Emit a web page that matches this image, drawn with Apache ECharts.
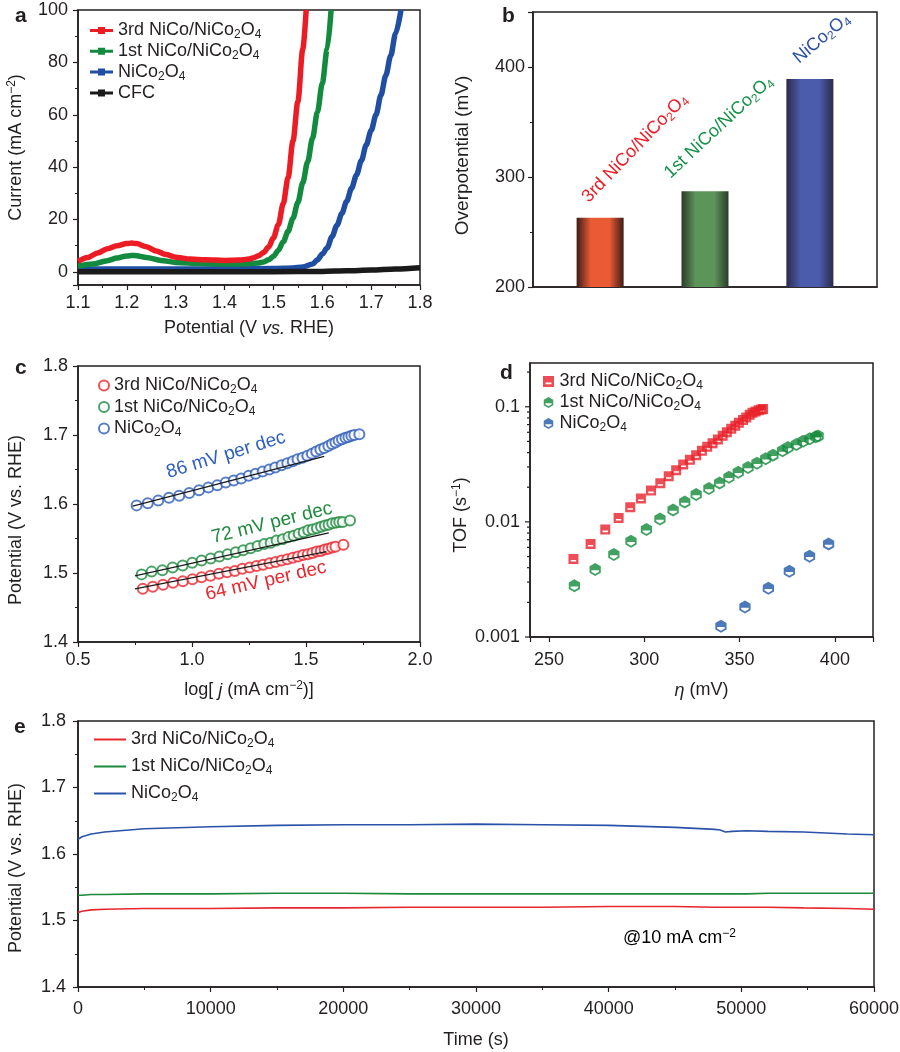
<!DOCTYPE html>
<html>
<head>
<meta charset="utf-8">
<script src="https://cdn.jsdelivr.net/npm/echarts@6/dist/echarts.min.js"></script>
<style>
  html, body { margin: 0; padding: 0; background: #fff; }
  #main { width: 900px; height: 1052px; }
</style>
</head>
<body>
<div id="main"></div>
<script>
// ---------- data ----------
// a: LSV curves (potential V, current mA cm-2)
var aV3 = [1.10,1.12,1.14,1.16,1.18,1.20,1.21,1.22,1.24,1.26,1.28,1.30,1.33,1.36,1.40,1.43,1.45,1.46,1.47,1.48,1.49,1.50,1.51,1.52,1.53,1.54,1.55,1.56,1.567];
var aI3 = [4.0,5.5,7.2,8.8,10.0,10.8,11.0,10.8,9.6,8.0,6.6,5.6,4.9,4.6,4.4,4.5,4.9,5.4,6.2,7.4,9.5,13,18,26,36,50,65,85,100];
var aV1 = [1.10,1.13,1.16,1.18,1.20,1.21,1.22,1.24,1.27,1.30,1.35,1.40,1.45,1.47,1.48,1.49,1.50,1.51,1.52,1.53,1.54,1.55,1.56,1.57,1.58,1.59,1.60,1.61,1.618];
var aI1 = [2.2,3.0,4.3,5.3,6.1,6.3,6.2,5.5,4.4,3.6,3.2,3.0,3.1,3.4,3.8,4.6,6.0,8.2,11.5,15.5,20.5,26.5,34,42,51,61,72,85,100];
var aVn = [1.10,1.20,1.30,1.40,1.50,1.54,1.56,1.58,1.59,1.60,1.61,1.62,1.63,1.64,1.65,1.66,1.67,1.68,1.69,1.70,1.71,1.72,1.73,1.74,1.75,1.761];
var aIn = [1.0,1.1,1.1,1.2,1.3,1.5,1.9,3.0,4.6,6.8,9.2,13.5,17.8,22.3,27,32,37,42.5,48.5,54,60,67.5,75,82.5,91,100];
var aVc = [1.10,1.30,1.50,1.60,1.65,1.70,1.75,1.80];
var aIc = [0.1,0.1,0.1,0.2,0.4,0.7,1.1,1.6];

// b: overpotential (mV)
var bPos = [1, 2, 3];
var bVals = [263, 287, 389];

// c: Tafel points
var cX3 = [0.784,0.828,0.873,0.917,0.960,1.002,1.042,1.081,1.118,1.154,1.188,1.221,1.253,1.283,1.312,1.340,1.367,1.393,1.418,1.442,1.465,1.487,1.508,1.528,1.547,1.565,1.582,1.598,1.614,1.629,1.664];
var cY3 = [1.477,1.480,1.483,1.486,1.488,1.491,1.494,1.496,1.499,1.501,1.503,1.506,1.508,1.510,1.512,1.514,1.516,1.518,1.520,1.522,1.524,1.526,1.527,1.529,1.531,1.532,1.534,1.535,1.537,1.538,1.541];
var cX1 = [0.779,0.823,0.870,0.915,0.959,1.001,1.042,1.082,1.120,1.156,1.192,1.225,1.257,1.288,1.317,1.345,1.371,1.398,1.423,1.446,1.468,1.490,1.510,1.529,1.548,1.566,1.583,1.599,1.615,1.632,1.646,1.661,1.693];
var cY1 = [1.498,1.502,1.504,1.508,1.511,1.515,1.518,1.521,1.524,1.527,1.530,1.533,1.536,1.539,1.542,1.544,1.547,1.549,1.552,1.554,1.557,1.559,1.562,1.563,1.565,1.567,1.569,1.570,1.572,1.573,1.574,1.574,1.576];
var cXn = [0.757,0.806,0.852,0.899,0.944,0.988,1.031,1.072,1.111,1.148,1.183,1.216,1.249,1.279,1.310,1.339,1.365,1.393,1.418,1.442,1.463,1.485,1.506,1.526,1.545,1.563,1.580,1.598,1.614,1.629,1.643,1.658,1.673,1.686,1.699,1.712,1.734];
var cYn = [1.598,1.601,1.605,1.609,1.612,1.616,1.620,1.624,1.627,1.631,1.634,1.637,1.641,1.644,1.647,1.650,1.653,1.656,1.659,1.662,1.665,1.667,1.670,1.673,1.676,1.679,1.681,1.684,1.687,1.689,1.692,1.694,1.696,1.697,1.699,1.700,1.701];
// c: fitted lines
var cFitX3 = [0.75, 1.59], cFitY3 = [1.477, 1.531];
var cFitX1 = [0.75, 1.60], cFitY1 = [1.496, 1.558];
var cFitXn = [0.74, 1.58], cFitYn = [1.597, 1.669];

// d: TOF vs overpotential
var dX3 = [262.8,271.8,279.5,286.5,292.6,298.2,303.5,308.4,312.8,316.7,320.4,323.9,327.2,330.2,333.0,335.8,338.6,341.1,343.3,345.6,347.7,349.6,351.8,353.5,355.3,356.8,358.4,360.0,361.4,362.3];
var dY3 = [0.00476,0.00644,0.00857,0.01083,0.01342,0.01596,0.01872,0.02168,0.02493,0.02812,0.03154,0.03459,0.03801,0.04143,0.04487,0.04831,0.0520,0.0560,0.0602,0.0644,0.0684,0.0726,0.0766,0.0807,0.0851,0.0887,0.0910,0.0935,0.0948,0.0955];
var dX1 = [263.3,274.2,284.0,293.0,301.1,308.2,315.1,321.2,327.2,333.9,339.5,344.4,349.3,354.4,359.1,363.7,367.5,372.5,375.4,379.8,383.3,386.8,390.0,391.2];
var dY1 = [0.00279,0.00386,0.0052,0.00679,0.00857,0.0106,0.0127,0.0149,0.0173,0.0195,0.0218,0.0244,0.0270,0.0297,0.0323,0.0353,0.0380,0.0414,0.0443,0.0470,0.0502,0.0527,0.0548,0.0556];
var dXn = [340.2,352.8,365.1,376.1,386.7,396.7];
var dYn = [0.00124,0.00182,0.00265,0.00372,0.00502,0.00644];
var dMajorTicks = [0.001, 0.01, 0.1];
var dMinorTicks = [0.002,0.003,0.004,0.005,0.006,0.007,0.008,0.009,0.02,0.03,0.04,0.05,0.06,0.07,0.08,0.09,0.2];

// e: chronopotentiometry
var eT  = [0,300,1000,2000,5000,10000,15000,20000,25000,30000,35000,40000,45000,48000,48400,48800,49300,50400,52000,54700,58000,60000];
var eYn = [1.622,1.626,1.630,1.633,1.638,1.641,1.643,1.644,1.644,1.645,1.644,1.643,1.640,1.637,1.636,1.633,1.634,1.635,1.634,1.633,1.630,1.629];
var eY1 = [1.538,1.538,1.539,1.539,1.540,1.540,1.541,1.541,1.540,1.540,1.540,1.540,1.540,1.540,1.540,1.540,1.540,1.540,1.541,1.541,1.541,1.541];
var eY3 = [1.512,1.514,1.516,1.517,1.518,1.518,1.519,1.519,1.520,1.520,1.520,1.521,1.521,1.520,1.520,1.520,1.520,1.520,1.520,1.519,1.518,1.517];

// ---------- styles ----------
var FONT = '"Liberation Sans", Arial, sans-serif';
var INK = '#231f20';
var RED = '#ec1c24', GREEN = '#138b3f', BLUE = '#1f4ea3', BLACK = '#1a1a1a';

function zip(xs, ys) { return xs.map(function (x, i) { return [x, ys[i]]; }); }

function rich(size, color) {
  var small = Math.round(size * 0.67);
  return {
    n: { fontSize: size, lineHeight: 21, color: color, fontFamily: FONT },
    i: { fontSize: size, lineHeight: 21, color: color, fontFamily: FONT, fontStyle: 'italic' },
    s: { fontSize: small, lineHeight: 6, verticalAlign: 'bottom', color: color, fontFamily: FONT },
    u: { fontSize: small, lineHeight: 8, verticalAlign: 'top', color: color, fontFamily: FONT }
  };
}

var LEG = {
  '3rd': '{n|3rd NiCo/NiCo}{s|2}{n|O}{s|4}',
  '1st': '{n|1st NiCo/NiCo}{s|2}{n|O}{s|4}',
  'nco': '{n|NiCo}{s|2}{n|O}{s|4}',
  'cfc': '{n|CFC}'
};
function legName(name) { return LEG[name.slice(2)]; }

function merge(a, b) {
  for (var k in b) {
    if (b[k] && typeof b[k] === 'object' && !Array.isArray(b[k]) && a[k] && typeof a[k] === 'object') merge(a[k], b[k]);
    else a[k] = b[k];
  }
  return a;
}

function axis(idx, extra) {
  return merge({
    type: 'value', gridIndex: idx,
    splitLine: { show: false },
    axisLine: { show: true, onZero: false, lineStyle: { color: INK, width: 1.5 } },
    axisTick: { show: true, length: 5, lineStyle: { color: INK, width: 1.2 } },
    minorTick: { show: false, length: 3, lineStyle: { color: INK, width: 1 } },
    axisLabel: { color: INK, fontSize: 18, fontFamily: FONT, margin: 9 },
    nameLocation: 'middle',
    nameTextStyle: { rich: rich(18, INK) }
  }, extra);
}

function gridBox(l, t, w, h) {
  return { left: l, top: t, width: w, height: h, show: true, borderColor: INK, borderWidth: 1.5,
           backgroundColor: 'transparent', containLabel: false, outerBoundsMode: 'none' };
}

var SQ = 'path://M0,0H10V10H0Z M2.3,6V7.6H7.7V6Z';
var HEX = 'path://M5,0L9.33,2.5L9.33,7.5L5,10L0.67,7.5L0.67,2.5Z M2.1,5.6L2.1,6.7L5,8.4L7.9,6.7L7.9,5.6Z';
var LINE_SQ = 'path://M0,2H23V5H0Z M8,0H15V7H8Z';

function grad(dark, bright) {
  return { type: 'linear', x: 0, y: 0, x2: 1, y2: 0,
    colorStops: [{ offset: 0, color: dark }, { offset: 0.3, color: bright }, { offset: 0.7, color: bright }, { offset: 1, color: dark }] };
}
// screen offset -> offset in the rotated label frame
function rotOff(d, deg) {
  var t = deg * Math.PI / 180, c = Math.cos(t), s = Math.sin(t);
  return [d[0] * c - d[1] * s, d[0] * s + d[1] * c];
}
var B_FILL = [grad('#3d1c16', '#ea5a35'), grad('#2c3a2b', '#5b9658'), grad('#2b2a4a', '#4b5cac')];
var B_TXT = ['#ee1c25', '#16914a', '#2b4fa3'];
var B_ROT = [46, 43, 40];
var B_OFF = [[-15, -13], [-38, -11], [-14, -14]];
var B_LAB = [LEG['3rd'], LEG['1st'], LEG['nco']];

var D_XMIN = 240;

var chart = echarts.init(document.getElementById('main'));

var option = {
  backgroundColor: '#fff',
  animation: false,
  textStyle: { fontFamily: FONT },
  grid: [
    gridBox(78, 10, 342, 275),
    gridBox(533, 12, 344, 275),
    gridBox(78, 366, 342, 276),
    gridBox(530, 363, 343, 274),
    gridBox(78, 721, 796, 266)
  ],
  xAxis: [
    axis(0, { min: 1.1, max: 1.8, interval: 0.1, minorTick: { show: true, splitNumber: 2 },
      name: '{n|Potential (V }{i|vs.}{n| RHE)}', nameGap: 33 }),
    axis(1, { min: 0.36, max: 3.64, axisLabel: { show: false }, axisTick: { show: false } }),
    axis(2, { min: 0.5, max: 2.0, interval: 0.5, minorTick: { show: true, splitNumber: 2 },
      axisLabel: { formatter: function (v) { return v.toFixed(1); } },
      name: '{n|log[ }{i|j}{n| (mA cm}{u|\u22122}{n|)]}', nameGap: 38 }),
    axis(3, { min: 240, max: 420, splitNumber: 3,
      axisLabel: { margin: 14, formatter: function (v) { return v % 50 === 0 ? String(v) : ''; } },
      name: '{i|\u03b7}{n| (mV)}', nameGap: 43 }),
    axis(4, { min: 0, max: 60000, interval: 10000, minorTick: { show: true, splitNumber: 2 },
      axisLabel: { margin: 13, formatter: function (v) { return String(v); } },
      name: '{n|Time (s)}', nameGap: 43 })
  ],
  yAxis: [
    axis(0, { min: -5, max: 100, splitNumber: 5, minorTick: { show: true, splitNumber: 2 },
      axisLabel: { margin: 10, formatter: function (v) { return v < 0 ? '' : String(v); } },
      name: '{n|Current (mA cm}{u|\u22122}{n|)}', nameRotate: 90, nameGap: 51 }),
    axis(1, { min: 200, max: 450, interval: 100, minorTick: { show: true, splitNumber: 2 },
      axisLabel: { margin: 8, formatter: function (v) { return v > 400 ? '' : String(v); } },
      name: '{n|Overpotential (mV)}', nameRotate: 90, nameGap: 60,
      nameTextStyle: { padding: [0, 12, 0, 0], rich: rich(19, INK) } }),
    axis(2, { min: 1.4, max: 1.8, interval: 0.1, minorTick: { show: true, splitNumber: 2 },
      axisLabel: { margin: 10, formatter: function (v) { return v.toFixed(1); } },
      name: '{n|Potential (V vs. RHE)}', nameRotate: 90, nameGap: 51, nameTextStyle: { padding: [0, 32, 0, 0] } }),
    axis(3, { type: 'log', logBase: 10, min: 0.001, max: 0.24, axisTick: { show: false },
      axisLabel: { margin: 10, formatter: function (v) {
        var s = +(+v).toPrecision(3); return dMajorTicks.indexOf(s) >= 0 ? String(s) : ''; } },
      name: '{n|TOF (s}{u|\u22121}{n|)}', nameRotate: 90, nameGap: 58, nameTextStyle: { padding: [0, 30, 0, 0] } }),
    axis(4, { min: 1.4, max: 1.8, interval: 0.1, minorTick: { show: true, splitNumber: 2 },
      axisLabel: { margin: 12, formatter: function (v) { return v.toFixed(1); } },
      name: '{n|Potential (V vs. RHE)}', nameRotate: 90, nameGap: 51, nameTextStyle: { padding: [0, 28, 0, 0] } })
  ],
  legend: [
    { data: ['a 3rd', 'a 1st', 'a nco', 'a cfc'], orient: 'vertical', left: 90, top: 21.5, padding: 0, itemGap: 1.3,
      itemWidth: 23, itemHeight: 7, icon: LINE_SQ, selectedMode: false, formatter: legName,
      textStyle: { color: INK, rich: rich(18, INK) } },
    { data: ['c 3rd', 'c 1st', 'c nco'], orient: 'vertical', left: 98, top: 376.5, padding: 0, itemGap: 2,
      itemWidth: 10, itemHeight: 10, icon: 'emptyCircle', selectedMode: false, formatter: legName,
      textStyle: { color: INK, rich: rich(18, INK) } },
    { data: [{ name: 'd 3rd', icon: SQ }, { name: 'd 1st', icon: HEX }, { name: 'd nco', icon: HEX }],
      orient: 'vertical', left: 543, top: 372.5, padding: 0, itemGap: 1.5,
      itemWidth: 12, itemHeight: 11, selectedMode: false, formatter: legName,
      textStyle: { color: INK, rich: rich(18, INK) } },
    { data: ['e 3rd', 'e 1st', 'e nco'], orient: 'vertical', left: 94, top: 730.5, padding: 0, itemGap: 7.5,
      itemWidth: 32, itemHeight: 2, icon: 'rect', selectedMode: false, formatter: legName,
      textStyle: { color: INK, rich: rich(18, INK) } }
  ],
  series: [
    // ----- a -----
    { name: 'a nco', type: 'line', xAxisIndex: 0, yAxisIndex: 0, data: zip(aVn, aIn), showSymbol: false,
      smooth: 0.3, smoothMonotone: 'x', color: BLUE, lineStyle: { width: 5.5 } },
    { name: 'a 1st', type: 'line', xAxisIndex: 0, yAxisIndex: 0, data: zip(aV1, aI1), showSymbol: false,
      smooth: 0.3, smoothMonotone: 'x', color: GREEN, lineStyle: { width: 5.5 } },
    { name: 'a 3rd', type: 'line', xAxisIndex: 0, yAxisIndex: 0, data: zip(aV3, aI3), showSymbol: false,
      smooth: 0.3, smoothMonotone: 'x', color: RED, lineStyle: { width: 5.5 } },
    { name: 'a cfc', type: 'line', xAxisIndex: 0, yAxisIndex: 0, data: zip(aVc, aIc), showSymbol: false,
      smooth: 0.3, smoothMonotone: 'x', color: BLACK, lineStyle: { width: 5.5 } },
    // ----- b -----
    { name: 'b', type: 'bar', xAxisIndex: 1, yAxisIndex: 1, barWidth: 47,
      data: bPos.map(function (p, i) {
        return { value: [p, bVals[i]], itemStyle: { color: B_FILL[i] },
          label: { rotate: B_ROT[i], offset: rotOff(B_OFF[i], B_ROT[i]), rich: rich(18, B_TXT[i]) } };
      }),
      label: { show: true, position: 'top', distance: 5, align: 'left', verticalAlign: 'middle',
        formatter: function (p) { return B_LAB[p.dataIndex]; } } },
    // ----- c -----
    { name: 'c 3rd', type: 'scatter', xAxisIndex: 2, yAxisIndex: 2, data: zip(cX3, cY3), symbol: 'emptyCircle',
      symbolSize: 10, color: '#e8262d', itemStyle: { borderWidth: 1.3 } },
    { name: 'c 1st', type: 'scatter', xAxisIndex: 2, yAxisIndex: 2, data: zip(cX1, cY1), symbol: 'emptyCircle',
      symbolSize: 10, color: '#1e8a3e', itemStyle: { borderWidth: 1.3 } },
    { name: 'c nco', type: 'scatter', xAxisIndex: 2, yAxisIndex: 2, data: zip(cXn, cYn), symbol: 'emptyCircle',
      symbolSize: 10, color: '#2d5db8', itemStyle: { borderWidth: 1.3 } },
    { name: 'c fit3', type: 'line', xAxisIndex: 2, yAxisIndex: 2, data: zip(cFitX3, cFitY3), showSymbol: false,
      color: BLACK, lineStyle: { width: 1.3 }, z: 5 },
    { name: 'c fit1', type: 'line', xAxisIndex: 2, yAxisIndex: 2, data: zip(cFitX1, cFitY1), showSymbol: false,
      color: BLACK, lineStyle: { width: 1.3 }, z: 5 },
    { name: 'c fitn', type: 'line', xAxisIndex: 2, yAxisIndex: 2, data: zip(cFitXn, cFitYn), showSymbol: false,
      color: BLACK, lineStyle: { width: 1.3 }, z: 5 },
    // ----- d -----
    { name: 'd 3rd', type: 'scatter', xAxisIndex: 3, yAxisIndex: 3, data: zip(dX3, dY3), symbol: SQ,
      symbolSize: 10, symbolKeepAspect: true, color: '#e8222a' },
    { name: 'd 1st', type: 'scatter', xAxisIndex: 3, yAxisIndex: 3, data: zip(dX1, dY1), symbol: HEX,
      symbolSize: 13, symbolKeepAspect: true, color: '#138a3a' },
    { name: 'd nco', type: 'scatter', xAxisIndex: 3, yAxisIndex: 3, data: zip(dXn, dYn), symbol: HEX,
      symbolSize: 13, symbolKeepAspect: true, color: '#1f57a8' },
    { name: 'd ticks', type: 'custom', xAxisIndex: 3, yAxisIndex: 3, silent: true, clip: false,
      data: dMajorTicks.map(function (v) { return [D_XMIN, v, 1]; })
        .concat(dMinorTicks.map(function (v) { return [D_XMIN, v, 0]; })),
      renderItem: function (params, api) {
        var p = api.coord([api.value(0), api.value(1)]);
        var len = api.value(2) ? 5 : 3;
        return { type: 'line', shape: { x1: p[0], y1: p[1], x2: p[0] - len, y2: p[1] },
          style: { stroke: INK, lineWidth: 1.2 } };
      } },
    // ----- e -----
    { name: 'e 3rd', type: 'line', xAxisIndex: 4, yAxisIndex: 4, data: zip(eT, eY3), showSymbol: false,
      color: '#e8262d', lineStyle: { width: 1.6 } },
    { name: 'e 1st', type: 'line', xAxisIndex: 4, yAxisIndex: 4, data: zip(eT, eY1), showSymbol: false,
      color: '#1a8a3a', lineStyle: { width: 1.6 } },
    { name: 'e nco', type: 'line', xAxisIndex: 4, yAxisIndex: 4, data: zip(eT, eYn), showSymbol: false,
      color: '#2a52a8', lineStyle: { width: 1.6 } }
  ],
  graphic: [
    { type: 'text', x: 15, y: 16, style: { text: 'a', font: 'bold 21px ' + FONT, fill: INK, verticalAlign: 'middle' } },
    { type: 'text', x: 502, y: 16, style: { text: 'b', font: 'bold 21px ' + FONT, fill: INK, verticalAlign: 'middle' } },
    { type: 'text', x: 15, y: 368, style: { text: 'c', font: 'bold 21px ' + FONT, fill: INK, verticalAlign: 'middle' } },
    { type: 'text', x: 500, y: 373, style: { text: 'd', font: 'bold 21px ' + FONT, fill: INK, verticalAlign: 'middle' } },
    { type: 'text', x: 14, y: 727, style: { text: 'e', font: 'bold 21px ' + FONT, fill: INK, verticalAlign: 'middle' } },
    // Tafel slope notes
    { type: 'text', x: 226, y: 455, rotation: 17 * Math.PI / 180,
      style: { text: '86 mV per dec', font: '19px ' + FONT, fill: '#2d5fc0', align: 'center', verticalAlign: 'middle' } },
    { type: 'text', x: 272, y: 523, rotation: 14 * Math.PI / 180,
      style: { text: '72 mV per dec', font: '19px ' + FONT, fill: '#1e8a3e', align: 'center', verticalAlign: 'middle' } },
    { type: 'text', x: 266, y: 581, rotation: 13 * Math.PI / 180,
      style: { text: '64 mV per dec', font: '19px ' + FONT, fill: '#e8262d', align: 'center', verticalAlign: 'middle' } },
    // e note
    { type: 'text', x: 623, y: 938,
      style: { text: '{n|@10 mA cm}{u|\u22122}', rich: rich(18, INK), align: 'left', verticalAlign: 'middle' } }
  ]
};

chart.setOption(option);
</script>
</body>
</html>
